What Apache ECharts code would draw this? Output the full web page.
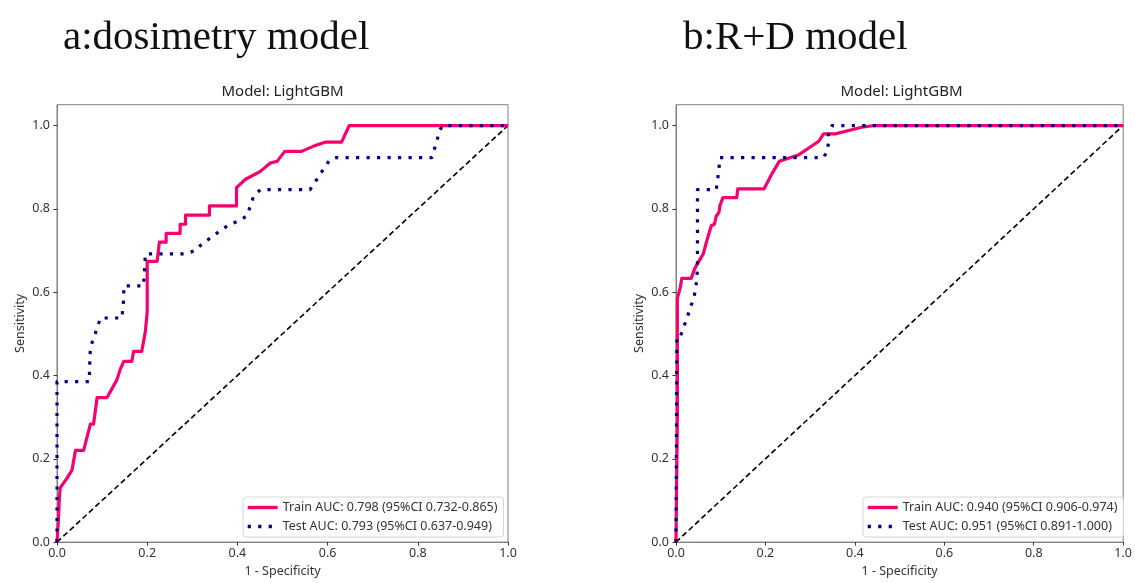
<!DOCTYPE html>
<html>
<head>
<meta charset="utf-8">
<script src="https://cdn.jsdelivr.net/npm/echarts@6/dist/echarts.min.js"></script>
<style>
html,body{margin:0;padding:0;background:#fff;}
#chart{width:1135px;height:583px;}
</style>
</head>
<body>
<div id="chart"></div>
<script>
// ---------- data ----------
const panelTitles = ['a:dosimetry model', 'b:R+D model'];
const modelTitle = 'Model: LightGBM';
const xAxisName = '1 - Specificity';
const yAxisName = 'Sensitivity';
const tickValues = [0, 0.2, 0.4, 0.6, 0.8, 1.0];

const legendA = ['Train AUC: 0.798 (95%CI 0.732-0.865)', 'Test AUC: 0.793 (95%CI 0.637-0.949)'];
const legendB = ['Train AUC: 0.940 (95%CI 0.906-0.974)', 'Test AUC: 0.951 (95%CI 0.891-1.000)'];

// panel a: dosimetry model
const aTrainFpr = [0, 0.003, 0.005, 0.007, 0.02, 0.033, 0.041, 0.059, 0.074, 0.081, 0.089, 0.111, 0.133, 0.14, 0.148, 0.166, 0.17, 0.188, 0.196, 0.2, 0.2, 0.222, 0.227, 0.242, 0.242, 0.273, 0.273, 0.285, 0.285, 0.338, 0.338, 0.398, 0.398, 0.418, 0.451, 0.473, 0.488, 0.505, 0.542, 0.568, 0.594, 0.631, 0.648, 1.0];
const aTrainTpr = [0, 0.05, 0.1, 0.13, 0.15, 0.172, 0.22, 0.22, 0.283, 0.283, 0.347, 0.347, 0.39, 0.414, 0.434, 0.434, 0.458, 0.458, 0.506, 0.553, 0.674, 0.674, 0.72, 0.72, 0.741, 0.741, 0.763, 0.763, 0.785, 0.785, 0.807, 0.807, 0.851, 0.871, 0.89, 0.91, 0.914, 0.938, 0.938, 0.95, 0.96, 0.96, 1.0, 1.0];
const aTestFpr = [0, 0, 0.072, 0.072, 0.074, 0.081, 0.089, 0.096, 0.144, 0.148, 0.148, 0.192, 0.196, 0.285, 0.307, 0.325, 0.344, 0.362, 0.384, 0.403, 0.421, 0.429, 0.436, 0.451, 0.561, 0.579, 0.59, 0.605, 0.62, 0.831, 0.842, 0.849, 0.855, 1.0];
const aTestTpr = [0, 0.385, 0.385, 0.414, 0.466, 0.49, 0.513, 0.538, 0.538, 0.585, 0.615, 0.615, 0.692, 0.692, 0.70, 0.72, 0.732, 0.748, 0.763, 0.771, 0.783, 0.807, 0.831, 0.846, 0.846, 0.875, 0.894, 0.918, 0.923, 0.923, 0.962, 0.99, 1.0, 1.0];

// panel b: R+D model
const bTrainFpr = [0, 0.003, 0.003, 0.009, 0.013, 0.034, 0.042, 0.05, 0.061, 0.068, 0.079, 0.086, 0.09, 0.096, 0.098, 0.105, 0.136, 0.138, 0.197, 0.216, 0.231, 0.275, 0.297, 0.319, 0.33, 0.356, 0.393, 0.415, 0.445, 1.0];
const bTrainTpr = [0, 0.3, 0.585, 0.609, 0.633, 0.633, 0.657, 0.672, 0.692, 0.72, 0.76, 0.763, 0.783, 0.791, 0.807, 0.827, 0.827, 0.848, 0.848, 0.887, 0.914, 0.93, 0.946, 0.962, 0.98, 0.98, 0.99, 0.996, 1.0, 1.0];
const bTestFpr = [0, 0.002, 0.009, 0.016, 0.025, 0.031, 0.04, 0.046, 0.048, 0.048, 0.09, 0.096, 0.098, 0.33, 0.34, 0.341, 0.349, 1.0];
const bTestTpr = [0, 0.49, 0.49, 0.514, 0.537, 0.561, 0.585, 0.625, 0.657, 0.846, 0.846, 0.894, 0.923, 0.923, 0.942, 0.986, 1.0, 1.0];

const diagX = [0, 1];
const diagY = [0, 1];

// ---------- styles ----------
const PINK = '#f5006e';
const NAVY = '#00007d';
const FONT = '"Noto Sans", "Open Sans", sans-serif';
const zip = (xs, ys) => xs.map((x, i) => [x, ys[i]]);

const gridPos = [
  {left: 57, top: 104.7, width: 451, height: 441},
  {left: 676, top: 104.7, width: 451, height: 441}
];

function xAxisFor(i) {
  return {
    type: 'value', gridIndex: i, min: 0, max: 1, interval: 0.2,
    name: xAxisName, nameLocation: 'middle', nameGap: 22,
    nameTextStyle: {fontFamily: FONT, fontSize: 12.5, color: '#333'},
    axisLine: {show: true, onZero: false, lineStyle: {color: '#808080', width: 1}},
    axisTick: {show: true, length: 3.5, lineStyle: {color: '#333'}},
    axisLabel: {fontFamily: FONT, fontSize: 12.5, color: '#333', margin: 5, formatter: v => v.toFixed(1)},
    splitLine: {show: false}
  };
}
function yAxisFor(i) {
  return {
    type: 'value', gridIndex: i, min: 0, max: 1.05, interval: 0.2,
    name: yAxisName, nameLocation: 'middle', nameGap: 30, nameRotate: 90,
    nameTextStyle: {fontFamily: FONT, fontSize: 12.5, color: '#333'},
    axisLine: {show: true, onZero: false, lineStyle: {color: '#808080', width: 1}},
    axisTick: {show: true, length: 3.5, lineStyle: {color: '#333'}, customValues: tickValues},
    axisLabel: {fontFamily: FONT, fontSize: 12.5, color: '#333', margin: 7, customValues: tickValues,
      formatter: v => (Math.abs(v * 5 - Math.round(v * 5)) < 1e-6 ? v.toFixed(1) : '')},
    splitLine: {show: false}
  };
}
function curve(name, xs, ys, i, color, width, type) {
  return {
    type: 'line', name: name, xAxisIndex: i, yAxisIndex: i,
    data: zip(xs, ys), symbol: 'none', showSymbol: false, silent: true,
    lineStyle: {color: color, width: width, type: type, cap: 'butt', join: 'round'},
    itemStyle: {color: color},
    animation: false, clip: true
  };
}
function diag(i) {
  return {
    type: 'line', name: 'chance', xAxisIndex: i, yAxisIndex: i,
    data: zip(diagX, diagY), symbol: 'none', silent: true,
    lineStyle: {color: '#000', width: 1.6, type: [5.5, 3.2]}, animation: false
  };
}
function legendFor(names, left) {
  return {
    data: names, orient: 'vertical', left: left, top: 497,
    itemWidth: 30, itemHeight: 14, itemGap: 6,
    padding: [4, 6, 4, 3],
    itemStyle: {opacity: 0},
    lineStyle: {width: 3.4},
    backgroundColor: 'rgba(255,255,255,0.85)', borderColor: '#d6d6d6', borderWidth: 1, borderRadius: 3,
    textStyle: {fontFamily: FONT, fontSize: 12.5, color: '#333'},
    selectedMode: false
  };
}

const option = {
  backgroundColor: '#fff',
  animation: false,
  title: [
    {text: panelTitles[0], left: 63, top: 18, padding: 0,
      textStyle: {fontFamily: '"Liberation Serif", "Times New Roman", serif', fontSize: 41, fontWeight: 'normal', color: '#111'}},
    {text: panelTitles[1], left: 683, top: 18, padding: 0,
      textStyle: {fontFamily: '"Liberation Serif", "Times New Roman", serif', fontSize: 41, fontWeight: 'normal', color: '#111'}},
    {text: modelTitle, left: 282.5, top: 84, padding: 0, textAlign: 'center',
      textStyle: {fontFamily: FONT, fontSize: 15, fontWeight: 'normal', color: '#222'}},
    {text: modelTitle, left: 901.5, top: 84, padding: 0, textAlign: 'center',
      textStyle: {fontFamily: FONT, fontSize: 15, fontWeight: 'normal', color: '#222'}}
  ],
  grid: gridPos.map(g => Object.assign({show: true, borderColor: '#808080', borderWidth: 1, backgroundColor: 'transparent', containLabel: false}, g)),
  xAxis: [xAxisFor(0), xAxisFor(1)],
  yAxis: [yAxisFor(0), yAxisFor(1)],
  legend: [legendFor(legendA, 243), legendFor(legendB, 863)],
  series: [
    diag(0),
    curve(legendA[0], aTrainFpr, aTrainTpr, 0, PINK, 3.2, 'solid'),
    curve(legendA[1], aTestFpr, aTestTpr, 0, NAVY, 3.2, [3.2, 7.3]),
    diag(1),
    curve(legendB[0], bTrainFpr, bTrainTpr, 1, PINK, 3.2, 'solid'),
    curve(legendB[1], bTestFpr, bTestTpr, 1, NAVY, 3.2, [3.2, 7.3])
  ]
};

const chart = echarts.init(document.getElementById('chart'), null, {renderer: 'canvas'});
chart.setOption(option);
</script>
</body>
</html>
